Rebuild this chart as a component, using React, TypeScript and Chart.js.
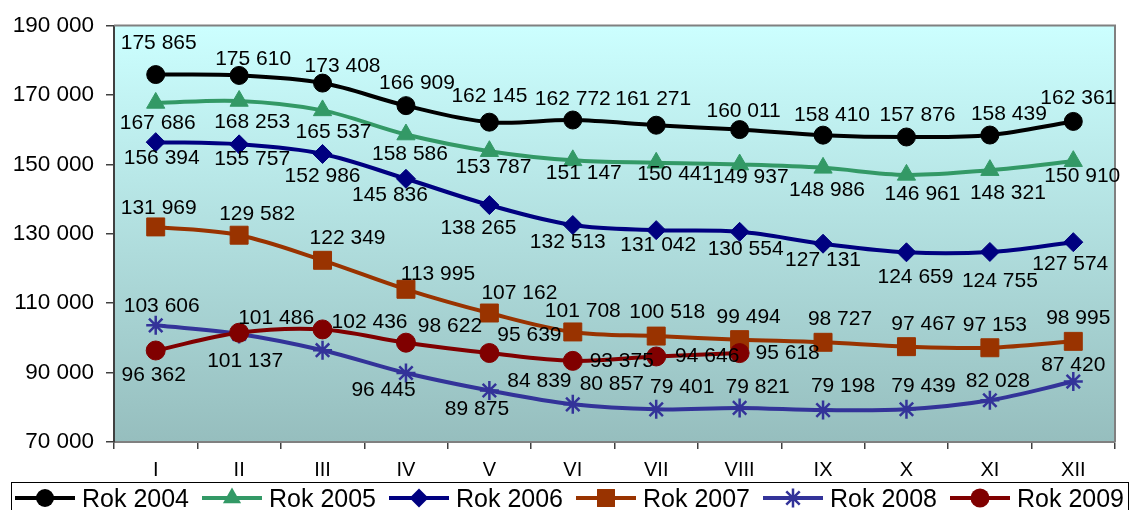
import React, { useEffect, useRef } from 'react';
import { Chart, registerables } from 'chart.js';

Chart.register(...registerables);

const months = ['I', 'II', 'III', 'IV', 'V', 'VI', 'VII', 'VIII', 'IX', 'X', 'XI', 'XII'];
const seriesNames = ['Rok 2004', 'Rok 2005', 'Rok 2006', 'Rok 2007', 'Rok 2008', 'Rok 2009'];

const rok2004 = [175865, 175610, 173408, 166909, 162145, 162772, 161271, 160011, 158410, 157876, 158439, 162361];
const rok2005 = [167686, 168253, 165537, 158586, 153787, 151147, 150441, 149937, 148986, 146961, 148321, 150910];
const rok2006 = [156394, 155757, 152986, 145836, 138265, 132513, 131042, 130554, 127131, 124659, 124755, 127574];
const rok2007 = [131969, 129582, 122349, 113995, 107162, 101708, 100518, 99494, 98727, 97467, 97153, 98995];
const rok2008 = [103606, 101137, 96445, 89875, 84839, 80857, 79401, 79821, 79198, 79439, 82028, 87420];
const rok2009 = [96362, 101486, 102436, 98622, 95639, 93375, 94646, 95618];

const yMin = 70000;
const yMax = 190000;
const yStep = 20000;

// label placement (styling): [dx, dy] from each marker
const labelOffsets: number[][][] = [
  [[3, -31], [14, -16], [20, -17], [11, -22], [0, -26], [0, -21], [-3, -26], [4, -18], [9, -20], [11, -22], [19, -21], [5, -23]],
  [[2, 20], [13, 21], [11, 22], [4, 20], [4, 16], [11, 13], [19, 11], [11, 13], [4, 22], [16, 19], [18, 23], [9, 15]],
  [[6, 16], [13, 15], [0, 22], [-16, 16], [-11, 23], [-5, 17], [2, 15], [6, 17], [0, 16], [9, 25], [10, 29], [-3, 22]],
  [[3, -19], [18, -21], [25, -22], [32, -15], [30, -20], [10, -21], [11, -24], [9, -22], [17, -23], [17, -22], [5, -23], [5, -23]],
  [[6, -19], [6, 27], [61, 40], [71, 36], [50, -9], [39, -20], [26, -22], [18, -21], [20, -24], [17, -23], [8, -19], [0, -16]],
  [[-2, 25], [37, -15], [47, -7], [44, -16], [40, -18], [49, 0], [51, 0], [48, 0]],
];

const styles = [
  { color: '#000000', point: 'circle', radius: 9 },
  { color: '#339966', point: 'triangle', radius: 10.5 },
  { color: '#000080', point: 'rectRot', radius: 9.5 },
  { color: '#993300', point: 'rect', radius: 12.7 },
  { color: '#333399', point: 'star', radius: 9.5 },
  { color: '#800000', point: 'circle', radius: 9.5 },
];

const FONT = '"Liberation Sans", Arial, sans-serif';
const fmt = (v: number) => String(Math.round(v)).replace(/\B(?=(\d{3})+(?!\d))/g, ' ');

function drawMarker(ctx: CanvasRenderingContext2D, style: string, x: number, y: number, r: number, color: string) {
  ctx.save();
  ctx.fillStyle = color;
  ctx.strokeStyle = color;
  ctx.beginPath();
  if (style === 'circle') {
    ctx.arc(x, y, r, 0, Math.PI * 2);
    ctx.fill();
  } else if (style === 'triangle') {
    for (let k = 0; k < 3; k++) {
      const a = (k * 2 * Math.PI) / 3;
      const px = x + Math.sin(a) * r;
      const py = y - Math.cos(a) * r;
      if (k === 0) ctx.moveTo(px, py);
      else ctx.lineTo(px, py);
    }
    ctx.closePath();
    ctx.fill();
  } else if (style === 'rectRot') {
    ctx.moveTo(x, y - r);
    ctx.lineTo(x + r, y);
    ctx.lineTo(x, y + r);
    ctx.lineTo(x - r, y);
    ctx.closePath();
    ctx.fill();
  } else if (style === 'rect') {
    const s = r * Math.SQRT1_2;
    ctx.rect(x - s, y - s, 2 * s, 2 * s);
    ctx.fill();
  } else if (style === 'star') {
    ctx.lineWidth = 2.5;
    for (let k = 0; k < 4; k++) {
      const a = (k * Math.PI) / 4;
      ctx.moveTo(x - Math.cos(a) * r, y - Math.sin(a) * r);
      ctx.lineTo(x + Math.cos(a) * r, y + Math.sin(a) * r);
    }
    ctx.stroke();
  }
  ctx.restore();
}

const bgPlugin = {
  id: 'bgPlugin',
  beforeDraw(chart: any) {
    const { ctx, chartArea } = chart;
    ctx.save();
    ctx.fillStyle = '#ffffff';
    ctx.fillRect(0, 0, chart.width, chart.height);
    const g = ctx.createLinearGradient(0, chartArea.top, 0, chartArea.bottom);
    g.addColorStop(0, '#CCFFFF');
    g.addColorStop(1, '#96BEBE');
    ctx.fillStyle = g;
    ctx.fillRect(chartArea.left, chartArea.top, chartArea.right - chartArea.left, chartArea.bottom - chartArea.top);
    ctx.restore();
  },
  beforeDatasetsDraw(chart: any) {
    const { ctx, chartArea } = chart;
    ctx.save();
    ctx.strokeStyle = '#808080';
    ctx.lineWidth = 2;
    ctx.beginPath();
    ctx.moveTo(chartArea.left, chartArea.top);
    ctx.lineTo(chartArea.right, chartArea.top);
    ctx.lineTo(chartArea.right, chartArea.bottom);
    ctx.stroke();
    ctx.restore();
  },
};

const labelPlugin = {
  id: 'labelPlugin',
  afterDatasetsDraw(chart: any) {
    const { ctx } = chart;
    ctx.save();
    ctx.font = `21px ${FONT}`;
    ctx.fillStyle = '#000000';
    ctx.textAlign = 'center';
    ctx.textBaseline = 'middle';
    chart.data.datasets.forEach((ds: any, i: number) => {
      const meta = chart.getDatasetMeta(i);
      meta.data.forEach((pt: any, j: number) => {
        const off = (labelOffsets[i] && labelOffsets[i][j]) || [0, -20];
        ctx.fillText(fmt(ds.data[j]), pt.x + off[0], pt.y + off[1]);
      });
    });
    ctx.restore();
  },
};

const legendPlugin = {
  id: 'legendPlugin',
  afterDraw(chart: any) {
    const { ctx } = chart;
    ctx.save();
    ctx.strokeStyle = '#000000';
    ctx.lineWidth = 1;
    ctx.strokeRect(11.5, 482.5, 1117, 40);
    ctx.font = `25px ${FONT}`;
    ctx.textAlign = 'left';
    ctx.textBaseline = 'alphabetic';
    seriesNames.forEach((name, i) => {
      const x0 = 15 + 187 * i;
      const y = 498;
      const st = styles[i];
      ctx.strokeStyle = st.color;
      ctx.lineWidth = 4;
      ctx.beginPath();
      ctx.moveTo(x0, y);
      ctx.lineTo(x0 + 60, y);
      ctx.stroke();
      drawMarker(ctx, st.point, x0 + 30, y, st.radius, st.color);
      ctx.fillStyle = '#000000';
      ctx.fillText(name, x0 + 67, 507);
    });
    ctx.restore();
  },
};

export default function App() {
  const ref = useRef<HTMLCanvasElement | null>(null);

  useEffect(() => {
    document.body.style.margin = '0';
    if (!ref.current) return;
    Chart.defaults.font.family = FONT;
    const seriesData = [rok2004, rok2005, rok2006, rok2007, rok2008, rok2009];
    const chart = new Chart(ref.current, {
      type: 'line',
      data: {
        labels: months,
        datasets: seriesData.map((d, i) => ({
          label: seriesNames[i],
          data: d,
          borderColor: styles[i].color,
          backgroundColor: styles[i].color,
          pointBackgroundColor: styles[i].color,
          pointBorderColor: styles[i].color,
          pointBorderWidth: styles[i].point === 'star' ? 2.5 : 1,
          pointStyle: styles[i].point as any,
          pointRadius: styles[i].radius,
          borderWidth: 4,
          tension: 0.35,
          fill: false,
          order: 5 - i,
        })),
      },
      options: {
        responsive: false,
        animation: false,
        devicePixelRatio: 1,
        layout: { padding: { top: 21, right: 16, bottom: 0, left: 0 } },
        plugins: {
          legend: { display: false },
          tooltip: { enabled: false },
          title: { display: false },
        },
        scales: {
          x: {
            type: 'category',
            offset: true,
            grid: {
              display: true,
              drawOnChartArea: false,
              drawTicks: true,
              tickLength: 7,
              offset: true,
              color: '#404040',
              lineWidth: 1.5,
            },
            border: { display: true, color: '#808080', width: 2 },
            ticks: {
              color: '#000000',
              font: { size: 20, family: FONT },
              padding: 9,
              maxRotation: 0,
              autoSkip: false,
            },
            afterFit(scale: any) {
              scale.height = 68;
            },
          },
          y: {
            min: yMin,
            max: yMax,
            grid: {
              display: true,
              drawOnChartArea: false,
              drawTicks: true,
              tickLength: 8,
              color: '#404040',
              lineWidth: 1.5,
            },
            border: { display: true, color: '#404040', width: 2 },
            ticks: {
              stepSize: yStep,
              color: '#000000',
              font: { size: 22.5, family: FONT },
              padding: 12,
              callback: (v: any) => fmt(Number(v)),
            },
            afterFit(scale: any) {
              scale.width = 114;
            },
          },
        },
      },
      plugins: [bgPlugin, labelPlugin, legendPlugin],
    });
    return () => chart.destroy();
  }, []);

  return (
    <div style={{ width: 1131, height: 510 }}>
      <canvas ref={ref} width={1131} height={510} style={{ display: 'block' }} />
    </div>
  );
}
